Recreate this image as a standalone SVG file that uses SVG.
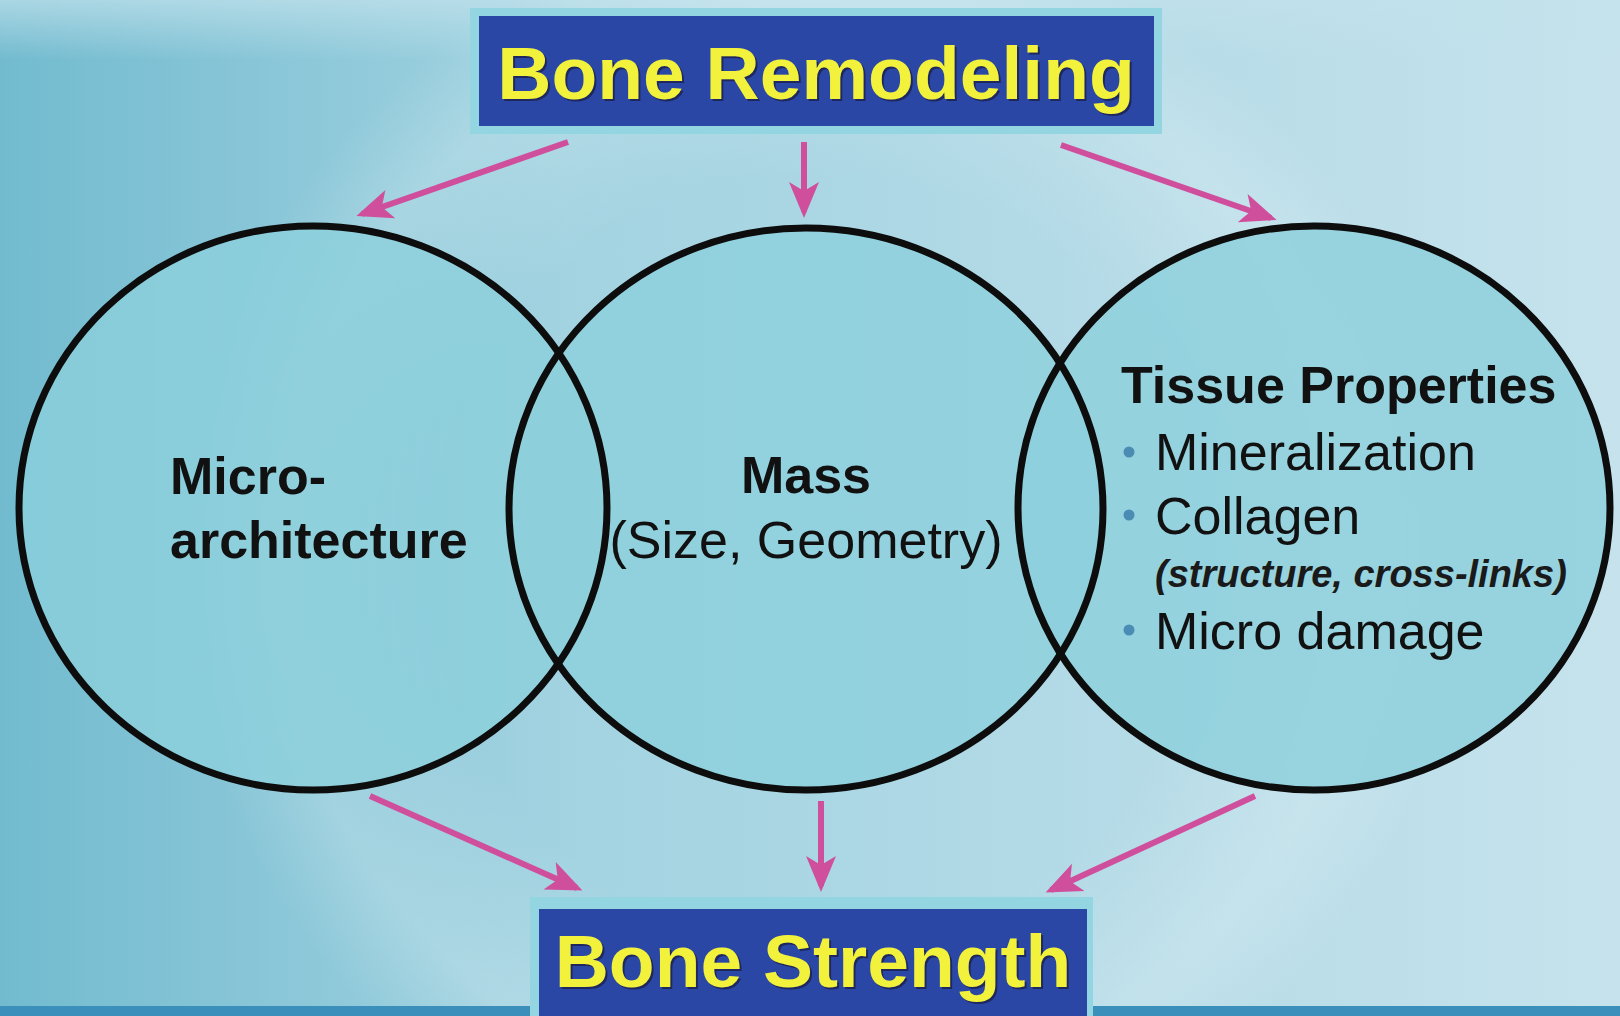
<svg xmlns="http://www.w3.org/2000/svg" width="1620" height="1016" viewBox="0 0 1620 1016">
<style>
.fill{fill:#8ccfdc;fill-opacity:0.8}
.ring{fill:none;stroke:#0d0d0d;stroke-width:7}
.frame{fill:#93d5e0}
.box{fill:#2b47a6}
.title{font-family:"Liberation Sans",Arial,sans-serif;font-weight:bold;font-size:75px;fill:#f2f23c;text-anchor:middle}
.shadow{font-family:"Liberation Sans",Arial,sans-serif;font-weight:bold;font-size:75px;fill:#1a1a40;fill-opacity:0.7;text-anchor:middle}
.b{font-family:"Liberation Sans",Arial,sans-serif;font-weight:bold;font-size:52px;fill:#111}
.r{font-family:"Liberation Sans",Arial,sans-serif;font-size:52px;fill:#111}
.i{font-family:"Liberation Sans",Arial,sans-serif;font-style:italic;font-weight:bold;font-size:38px;fill:#1a1a1a}
.arrow{stroke:#cf4f9c;stroke-width:6;fill:none;marker-end:url(#ah)}
.dot{fill:#4a8cb4}
</style>
<defs>
<linearGradient id="bg" x1="0" y1="0" x2="1" y2="0">
<stop offset="0" stop-color="#72bbcf"/>
<stop offset="0.35" stop-color="#a3d3e1"/>
<stop offset="0.7" stop-color="#b5dbe7"/>
<stop offset="1" stop-color="#c6e3ed"/>
</linearGradient>
<linearGradient id="topband" x1="0" y1="0" x2="0" y2="1">
<stop offset="0" stop-color="#c2e2ec" stop-opacity="0.7"/>
<stop offset="1" stop-color="#c2e2ec" stop-opacity="0"/>
</linearGradient>
<radialGradient id="glow" cx="0.5" cy="0.5" r="0.5">
<stop offset="0.6" stop-color="#ffffff" stop-opacity="0"/>
<stop offset="0.85" stop-color="#ffffff" stop-opacity="0.18"/>
<stop offset="1" stop-color="#ffffff" stop-opacity="0"/>
</radialGradient>
<marker id="ah" viewBox="0 0 12 10" refX="10" refY="5" markerWidth="6" markerHeight="6" orient="auto" markerUnits="strokeWidth">
<path d="M0,0 L12,5 L0,10 L3,5 z" fill="#cf4f9c"/>
</marker>
</defs>
<rect width="1620" height="1016" fill="url(#bg)"/>
<rect width="1620" height="60" fill="url(#topband)"/>
<circle cx="820" cy="560" r="640" fill="url(#glow)"/>
<rect x="0" y="1006" width="1620" height="10" fill="#3a8fbb"/>

<g id="node-micro">
<ellipse class="fill" cx="313" cy="508" rx="294" ry="282"/>
<text class="b" x="170" y="494">Micro-</text>
<text class="b" x="170" y="558">architecture</text>
</g>
<g id="node-mass">
<ellipse class="fill" cx="806" cy="509" rx="297" ry="281"/>
<text class="b" x="806" y="493" text-anchor="middle">Mass</text>
<text class="r" x="806" y="558" text-anchor="middle">(Size, Geometry)</text>
</g>
<g id="node-tissue">
<ellipse class="fill" cx="1314" cy="508" rx="296" ry="282"/>
<text class="b" x="1121" y="403">Tissue Properties</text>
<circle class="dot" cx="1129" cy="452" r="5.5"/>
<text class="r" x="1155" y="470">Mineralization</text>
<circle class="dot" cx="1129" cy="515" r="5.5"/>
<text class="r" x="1155" y="534">Collagen</text>
<text class="i" x="1155" y="587">(structure, cross-links)</text>
<circle class="dot" cx="1129" cy="630" r="5.5"/>
<text class="r" x="1155" y="649">Micro damage</text>
</g>
<g id="rings">
<ellipse class="ring" cx="313" cy="508" rx="294" ry="282"/>
<ellipse class="ring" cx="806" cy="509" rx="297" ry="281"/>
<ellipse class="ring" cx="1314" cy="508" rx="296" ry="282"/>
</g>

<g id="node-remodeling">
<rect class="frame" x="470" y="8" width="692" height="126"/>
<rect class="box" x="479" y="16" width="675" height="110"/>
<text class="shadow" x="818" y="101">Bone Remodeling</text>
<text class="title" x="816" y="99">Bone Remodeling</text>
</g>
<g id="node-strength">
<rect class="frame" x="530" y="897" width="563" height="119"/>
<rect class="box" x="539" y="909" width="548" height="107"/>
<text class="shadow" x="815" y="989">Bone Strength</text>
<text class="title" x="813" y="987">Bone Strength</text>
</g>

<g id="connectors">
<line class="arrow" x1="568" y1="142" x2="362" y2="214"/>
<line class="arrow" x1="804" y1="142" x2="804" y2="212"/>
<line class="arrow" x1="1061" y1="145" x2="1271" y2="218"/>
<line class="arrow" x1="370" y1="796" x2="577" y2="888"/>
<line class="arrow" x1="821" y1="801" x2="821" y2="886"/>
<line class="arrow" x1="1255" y1="796" x2="1051" y2="890"/>
</g>
</svg>
